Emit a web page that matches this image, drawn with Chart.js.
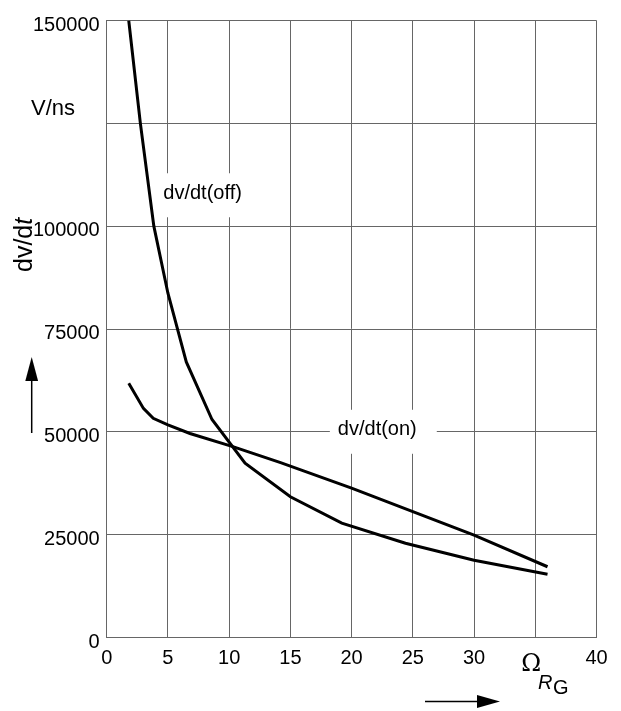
<!DOCTYPE html>
<html>
<head>
<meta charset="utf-8">
<script src="https://cdn.jsdelivr.net/npm/chart.js@4.4.1/dist/chart.umd.min.js"></script>
<style>
  html, body { margin: 0; padding: 0; background: #fff; }
  #wrap { width: 621px; height: 711px; position: relative; }
</style>
</head>
<body>
<div id="wrap"><canvas id="grafico"></canvas></div>
<script>
// dv/dt against gate resistance RG
const rgOff = [1.8, 2.75, 3.85, 5.0, 6.5, 8.6, 11.3, 15.0, 19.2, 24.4, 30.0, 36.0];
const dvOff = [150000, 125000, 100000, 83700, 67000, 53000, 42400, 34200, 27800, 22900, 18800, 15400];
const rgOn = [1.8, 3.0, 3.8, 5.0, 6.8, 10.3, 14.2, 20.0, 25.0, 30.0, 36.0];
const dvOn = [61800, 55700, 53300, 51700, 49600, 46400, 42500, 36300, 30600, 24900, 17200];

const xTicks = [0, 5, 10, 15, 20, 25, 30, 35, 40];
const yTicks = [0, 25000, 50000, 75000, 100000, 125000, 150000];

// curve names, placed at (RG, dv/dt)
const curveText = ['dv/dt(off)', 'dv/dt(on)'];
const curveAtR = [7.83, 22.1];
const curveAtV = [108000, 50500];

const FONT = '"Liberation Sans", Arial, sans-serif';
const SERIF = '"DejaVu Serif", "Liberation Serif", serif';
const GRID = '#666';

const extras = {
  id: 'extras',
  beforeDatasetsDraw(chart) {
    const { ctx, scales: { x, y } } = chart;
    ctx.save();
    ctx.font = '20px ' + FONT;
    ctx.textAlign = 'center';
    ctx.textBaseline = 'middle';
    curveText.forEach((t, i) => {
      const px = x.getPixelForValue(curveAtR[i]);
      const py = y.getPixelForValue(curveAtV[i]);
      const w = ctx.measureText(t).width;
      ctx.fillStyle = '#fff';
      ctx.fillRect(px - w / 2 - 8, py - 20, w + 28, 44);
      ctx.fillStyle = '#000';
      ctx.fillText(t, px, py);
    });
    ctx.restore();
  },
  afterDraw(chart) {
    const { ctx, scales: { x, y } } = chart;
    ctx.save();
    ctx.fillStyle = '#000';
    ctx.strokeStyle = '#000';

    // unit next to the 125000 line
    ctx.font = '22px ' + FONT;
    ctx.textAlign = 'left';
    ctx.textBaseline = 'alphabetic';
    ctx.fillText('V/ns', 31, y.getPixelForValue(125000) - 8);

    // ohm sign in place of the 35 label
    ctx.font = '24px ' + SERIF;
    ctx.textAlign = 'center';
    ctx.fillText('Ω', x.getPixelForValue(35) - 4, 671);
    ctx.textAlign = 'left';

    // rotated y title, italic t
    ctx.save();
    ctx.translate(31.5, 272);
    ctx.rotate(-Math.PI / 2);
    ctx.font = '25px ' + FONT;
    ctx.fillText('dv/d', 0, 0);
    const w = ctx.measureText('dv/d').width;
    ctx.font = 'italic 25px ' + FONT;
    ctx.fillText('t', w, 0);
    ctx.restore();

    // up arrow
    ctx.lineWidth = 1.5;
    ctx.beginPath();
    ctx.moveTo(31.7, 433);
    ctx.lineTo(31.7, 380);
    ctx.stroke();
    ctx.beginPath();
    ctx.moveTo(31.7, 357);
    ctx.lineTo(25.3, 381);
    ctx.lineTo(38.1, 381);
    ctx.closePath();
    ctx.fill();

    // right arrow
    ctx.beginPath();
    ctx.moveTo(425, 701.5);
    ctx.lineTo(478, 701.5);
    ctx.stroke();
    ctx.beginPath();
    ctx.moveTo(500, 701.5);
    ctx.lineTo(477, 695);
    ctx.lineTo(477, 708);
    ctx.closePath();
    ctx.fill();

    // R_G
    ctx.font = 'italic 20px ' + FONT;
    ctx.fillText('R', 538, 689);
    ctx.font = '20px ' + FONT;
    ctx.fillText('G', 553, 694);
    ctx.restore();
  }
};

new Chart(document.getElementById('grafico'), {
  type: 'line',
  data: {
    datasets: [
      {
        label: 'dv/dt(off)',
        data: rgOff.map((r, i) => ({ x: r, y: dvOff[i] })),
        borderColor: '#000',
        borderWidth: 3,
        pointRadius: 0,
        tension: 0
      },
      {
        label: 'dv/dt(on)',
        data: rgOn.map((r, i) => ({ x: r, y: dvOn[i] })),
        borderColor: '#000',
        borderWidth: 3,
        pointRadius: 0,
        tension: 0
      }
    ]
  },
  options: {
    responsive: true,
    maintainAspectRatio: false,
    animation: false,
    layout: { padding: { top: 20.5, right: 24.5, left: 0, bottom: 0 } },
    plugins: {
      legend: { display: false },
      tooltip: { enabled: false }
    },
    scales: {
      x: {
        type: 'linear',
        min: 0,
        max: 40,
        afterBuildTicks: s => { s.ticks = xTicks.map(v => ({ value: v })); },
        afterFit: s => { s.height = 73.5; },
        grid: { color: GRID, lineWidth: 1, drawTicks: false },
        border: { color: GRID },
        ticks: {
          autoSkip: false,
          maxRotation: 0,
          padding: 9,
          color: '#000',
          font: { family: FONT, size: 20 },
          callback: v => v === 35 ? '' : String(v)
        }
      },
      y: {
        min: 0,
        max: 150000,
        afterBuildTicks: s => { s.ticks = yTicks.map(v => ({ value: v })); },
        afterFit: s => { s.width = 106.7; },
        grid: { color: GRID, lineWidth: 1, drawTicks: false },
        border: { color: GRID },
        ticks: {
          padding: 7,
          labelOffset: 4.5,
          color: '#000',
          font: { family: FONT, size: 20 },
          callback: v => v === 125000 ? '' : String(v)
        }
      }
    }
  },
  plugins: [extras]
});
</script>
</body>
</html>
